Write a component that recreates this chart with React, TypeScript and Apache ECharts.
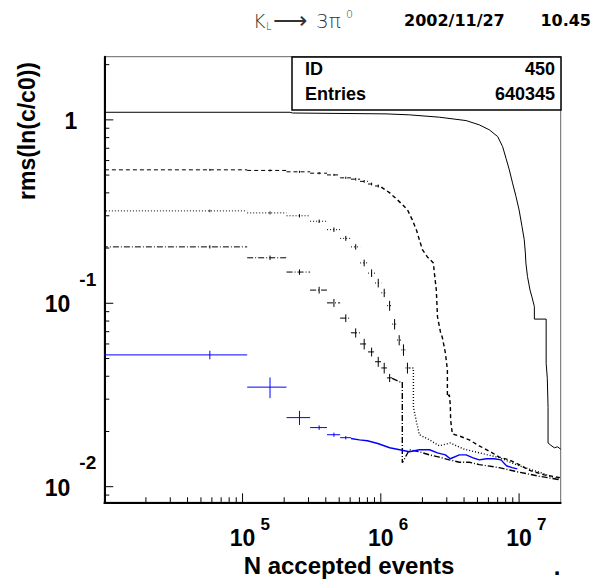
import React, { useEffect, useRef } from "react";
import * as echarts from "echarts";

const X_MIN = 1e4;
const X_MAX = 2e7;
const Y_MIN = 0.00822;
const Y_MAX = 2.21;
const BIN = 1e5;

const xMajor = [1e5, 1e6, 1e7];
const xMajorExp = ["5", "6", "7"];
const xMinor = [2e4, 3e4, 4e4, 5e4, 6e4, 7e4, 8e4, 9e4, 2e5, 3e5, 4e5, 5e5, 6e5, 7e5, 8e5, 9e5, 2e6, 3e6, 4e6, 5e6, 6e6, 7e6, 8e6, 9e6];
const yMajor = [0.01, 0.1, 1];
const yMajorBase = ["10", "10", "1"];
const yMajorExp = ["-2", "-1", ""];
const yMinor = [0.009, 0.02, 0.03, 0.04, 0.05, 0.06, 0.07, 0.08, 0.09, 0.2, 0.3, 0.4, 0.5, 0.6, 0.7, 0.8, 0.9, 2];

// solid series (line)
const A_trace = [
  [1e4, 1.1], [2.2e5, 1.1], [2.3e5, 1.09], [1.09e6, 1.078], [1.61e6, 1.065], [2.65e6, 1.034], [4.14e6, 0.991],
  [5.16e6, 0.939], [6.1e6, 0.882], [7.0e6, 0.811], [7.6e6, 0.715], [8.04e6, 0.618], [8.5e6, 0.534], [8.97e6, 0.452],
  [9.5e6, 0.382], [1.0e7, 0.323], [1.05e7, 0.262], [1.09e7, 0.222], [1.11e7, 0.188], [1.12e7, 0.166], [1.15e7, 0.14],
  [1.2e7, 0.118], [1.24e7, 0.108], [1.29e7, 0.096], [1.29e7, 0.082], [1.57e7, 0.082], [1.57e7, 0.047], [1.6e7, 0.039],
  [1.62e7, 0.027], [1.62e7, 0.0173], [1.7e7, 0.0168], [1.8e7, 0.0163], [1.9e7, 0.0165], [2e7, 0.016],
];

// dashed series: bins [centre, value, error] then dense trace
const B_bins = [
  [5.8e4, 0.534, 0.007], [1.58e5, 0.53, 0.007], [2.58e5, 0.521, 0.007], [3.58e5, 0.512, 0.007], [4.58e5, 0.501, 0.007],
  [5.58e5, 0.483, 0.007], [6.58e5, 0.475, 0.008], [7.58e5, 0.462, 0.008], [8.58e5, 0.447, 0.008], [9.58e5, 0.436, 0.008],
];
const B_trace = [
  [1.008e6, 0.43], [1.16e6, 0.4], [1.32e6, 0.366], [1.44e6, 0.344], [1.56e6, 0.323], [1.69e6, 0.285], [1.81e6, 0.251],
  [1.9e6, 0.222], [2.0e6, 0.196], [2.17e6, 0.179], [2.4e6, 0.166], [2.44e6, 0.146], [2.52e6, 0.118], [2.57e6, 0.0843],
  [2.7e6, 0.0698], [2.79e6, 0.0648], [2.93e6, 0.0537], [3.03e6, 0.0433], [3.03e6, 0.0309], [3.13e6, 0.0317],
  [3.18e6, 0.0279], [3.2e6, 0.0231], [3.29e6, 0.0194], [3.7e6, 0.0189], [4.36e6, 0.018], [5.15e6, 0.0167],
  [6.4e6, 0.0153], [7.19e6, 0.0145], [8.5e6, 0.014], [1e7, 0.0132], [1.18e7, 0.0123], [1.52e7, 0.0116], [1.98e7, 0.0112],
];

// dotted series
const C_bins = [
  [5.8e4, 0.319, 0.005], [1.58e5, 0.311, 0.006], [2.58e5, 0.3, 0.006], [3.58e5, 0.28, 0.006], [4.58e5, 0.252, 0.007],
  [5.58e5, 0.226, 0.007], [6.58e5, 0.203, 0.007], [7.58e5, 0.166, 0.007], [8.58e5, 0.146, 0.007], [9.58e5, 0.129, 0.007],
  [1.058e6, 0.114, 0.006], [1.158e6, 0.097, 0.006], [1.258e6, 0.077, 0.005], [1.358e6, 0.063, 0.004],
  [1.458e6, 0.0557, 0.004], [1.558e6, 0.0444, 0.003],
];
const C_trace = [
  [1.608e6, 0.0444], [1.72e6, 0.0444], [1.72e6, 0.0272], [1.81e6, 0.0226], [1.9e6, 0.0192], [2.25e6, 0.018],
  [2.65e6, 0.0167], [3.18e6, 0.0173], [4.02e6, 0.016], [5.15e6, 0.0153], [7.19e6, 0.0144], [1e7, 0.013],
  [1.4e7, 0.012], [1.98e7, 0.0109],
];

// dash-dot series
const D_bins = [
  [5.8e4, 0.203, 0.004], [1.58e5, 0.177, 0.005], [2.58e5, 0.148, 0.005], [3.58e5, 0.118, 0.005], [4.58e5, 0.1005, 0.005],
  [5.58e5, 0.083, 0.004], [6.58e5, 0.069, 0.004], [7.58e5, 0.06, 0.004], [8.58e5, 0.0543, 0.003], [9.58e5, 0.048, 0.003],
  [1.058e6, 0.0444, 0.003], [1.158e6, 0.0392, 0.002],
];
const D_trace = [
  [1.208e6, 0.039], [1.37e6, 0.0373], [1.43e6, 0.0373], [1.43e6, 0.0135], [1.61e6, 0.0159], [1.9e6, 0.0155],
  [2.25e6, 0.0149], [2.65e6, 0.0145], [3.13e6, 0.014], [3.7e6, 0.0136], [4.36e6, 0.0136], [5.15e6, 0.0132],
  [7.19e6, 0.0127], [1e7, 0.012], [1.4e7, 0.0114], [1.98e7, 0.0109],
];

// blue series
const E_bins = [
  [5.8e4, 0.0523, 0.0028], [1.58e5, 0.0349, 0.0045], [2.58e5, 0.0238, 0.0021], [3.58e5, 0.021, 0.0006],
  [4.58e5, 0.0192, 0.0005], [5.58e5, 0.0185, 0.0004],
];
const E_trace = [
  [6.08e5, 0.0183], [7.0e5, 0.018], [8.0e5, 0.0178], [9.5e5, 0.0172], [1.16e6, 0.0163], [1.37e6, 0.0159],
  [1.61e6, 0.0155], [1.9e6, 0.0159], [2.25e6, 0.0159], [2.57e6, 0.0153], [2.93e6, 0.0149], [3.18e6, 0.0142],
  [3.7e6, 0.0149], [4.14e6, 0.0149], [4.6e6, 0.0144], [5.15e6, 0.014], [5.8e6, 0.0142], [6.6e6, 0.0142],
  [7.4e6, 0.014], [8.1e6, 0.013], [8.9e6, 0.0127], [9.7e6, 0.0125],
];

const BLACK = "#000000";
const BLUE = "#0000ff";
const BOLD = "Liberation Sans, Arial, sans-serif";
const WIDE = "DejaVu Sans, sans-serif";

function crossSeries(data: number[][], color: string, dash: any) {
  return {
    type: "custom",
    data,
    clip: true,
    z: 4,
    silent: true,
    encode: { x: 0, y: 1 },
    renderItem: (_p: any, api: any) => {
      const xc = api.value(0);
      const y = api.value(1);
      const e = api.value(2);
      const l = api.coord([xc - BIN / 2, y]);
      const r = api.coord([xc + BIN / 2, y]);
      const t = api.coord([xc, y + e]);
      const b = api.coord([xc, y - e]);
      return {
        type: "group",
        children: [
          { type: "line", shape: { x1: l[0], y1: l[1], x2: r[0], y2: r[1] }, style: { stroke: color, lineWidth: 1, lineDash: dash } },
          { type: "line", shape: { x1: t[0], y1: t[1], x2: b[0], y2: b[1] }, style: { stroke: color, lineWidth: 1 } },
        ],
      };
    },
  };
}

function traceSeries(data: number[][], color: string, dash: any, width = 1.4) {
  return {
    type: "line",
    data,
    showSymbol: false,
    symbol: "none",
    clip: true,
    z: 3,
    silent: true,
    lineStyle: { color, width, type: dash },
  };
}

export default function App() {
  const ref = useRef<HTMLDivElement>(null);
  useEffect(() => {
    if (!ref.current) return;
    const chart = echarts.init(ref.current, null, { renderer: "svg" });
    const xTickData = [
      ...xMajor.map((v) => [v, Y_MIN, 1]),
      ...xMinor.map((v) => [v, Y_MIN, 0]),
    ];
    const yTickData = [
      ...yMajor.map((v) => [X_MIN, v, 1]),
      ...yMinor.map((v) => [X_MIN, v, 0]),
    ];
    const thin = { fontFamily: WIDE, fontWeight: 200, fill: "#333333", verticalAlign: "middle" };
    const option: any = {
      animation: false,
      backgroundColor: "#ffffff",
      grid: {
        left: 104.3, right: 39.3, top: 56.7, bottom: 78.7,
        show: true, borderColor: "#666666", borderWidth: 1,
        outerBoundsMode: "none", containLabel: false,
      },
      xAxis: {
        type: "log", logBase: 10, min: X_MIN, max: X_MAX,
        axisLine: { show: true, onZero: false, lineStyle: { color: BLACK, width: 2 } },
        axisTick: { show: false }, axisLabel: { show: false }, splitLine: { show: false },
      },
      yAxis: {
        type: "log", logBase: 10, min: Y_MIN, max: Y_MAX,
        axisLine: { show: true, onZero: false, lineStyle: { color: BLACK, width: 2 } },
        axisTick: { show: false }, axisLabel: { show: false }, splitLine: { show: false },
      },
      series: [
        traceSeries(A_trace, BLACK, "solid", 1),
        traceSeries(B_trace, BLACK, [4, 3]),
        crossSeries(B_bins, BLACK, [4, 3]),
        traceSeries(C_trace, BLACK, [1, 2]),
        crossSeries(C_bins, BLACK, [1, 2]),
        traceSeries(D_trace, BLACK, [6, 2, 1, 2]),
        crossSeries(D_bins, BLACK, [6, 2, 1, 2]),
        traceSeries(E_trace, BLUE, "solid"),
        crossSeries(E_bins, BLUE, null),
        {
          type: "custom", data: xTickData, clip: false, z: 6, silent: true, encode: { x: 0, y: 1 },
          renderItem: (_p: any, api: any) => {
            const p = api.coord([api.value(0), Y_MIN]);
            const len = api.value(2) ? 9 : 5;
            return { type: "line", shape: { x1: p[0], y1: p[1], x2: p[0], y2: p[1] - len }, style: { stroke: BLACK, lineWidth: 1 } };
          },
        },
        {
          type: "custom", data: yTickData, clip: false, z: 6, silent: true, encode: { x: 0, y: 1 },
          renderItem: (_p: any, api: any) => {
            const p = api.coord([X_MIN, api.value(1)]);
            const len = api.value(2) ? 9 : 5;
            return { type: "line", shape: { x1: p[0], y1: p[1], x2: p[0] + len, y2: p[1] }, style: { stroke: BLACK, lineWidth: 1 } };
          },
        },
        {
          type: "custom", data: xMajor.map((v) => [v, Y_MIN]), clip: false, z: 6, silent: true, encode: { x: 0, y: 1 },
          renderItem: (params: any, api: any) => {
            const p = api.coord([api.value(0), Y_MIN]);
            return {
              type: "group",
              children: [
                { type: "text", x: p[0], y: p[1] + 36, style: { text: "10", fontFamily: BOLD, fontWeight: "bold", fontSize: 23, fill: BLACK, align: "center", verticalAlign: "middle" } },
                { type: "text", x: p[0] + 18, y: p[1] + 22, style: { text: xMajorExp[params.dataIndex], fontFamily: BOLD, fontWeight: "bold", fontSize: 17, fill: BLACK, align: "left", verticalAlign: "middle" } },
              ],
            };
          },
        },
        {
          type: "custom", data: yMajor.map((v) => [X_MIN, v]), clip: false, z: 6, silent: true, encode: { x: 0, y: 1 },
          renderItem: (params: any, api: any) => {
            const p = api.coord([X_MIN, api.value(1)]);
            const i = params.dataIndex;
            const base = yMajorBase[i];
            const exp = yMajorExp[i];
            const children: any[] = [
              { type: "text", x: exp ? p[0] - 34 : p[0] - 27, y: p[1] + 1, style: { text: base, fontFamily: BOLD, fontWeight: "bold", fontSize: 23, fill: BLACK, align: "right", verticalAlign: "middle" } },
            ];
            if (exp) {
              children.push({ type: "text", x: p[0] - 25, y: p[1] - 24, style: { text: exp, fontFamily: BOLD, fontWeight: "bold", fontSize: 19, fill: BLACK, align: "left", verticalAlign: "middle" } });
            }
            return { type: "group", children };
          },
        },
      ],
      graphic: [
        { type: "rect", z: 100, shape: { x: 292, y: 57, width: 269, height: 53 }, style: { fill: "#ffffff", stroke: BLACK, lineWidth: 1.5 } },
        { type: "text", z: 101, x: 305, y: 69, style: { text: "ID", fontFamily: BOLD, fontWeight: "bold", fontSize: 18, fill: BLACK, align: "left", verticalAlign: "middle" } },
        { type: "text", z: 101, x: 555, y: 69, style: { text: "450", fontFamily: BOLD, fontWeight: "bold", fontSize: 18, fill: BLACK, align: "right", verticalAlign: "middle" } },
        { type: "text", z: 101, x: 305, y: 94, style: { text: "Entries", fontFamily: BOLD, fontWeight: "bold", fontSize: 18, fill: BLACK, align: "left", verticalAlign: "middle" } },
        { type: "text", z: 101, x: 555, y: 94, style: { text: "640345", fontFamily: BOLD, fontWeight: "bold", fontSize: 18, fill: BLACK, align: "right", verticalAlign: "middle" } },
        { type: "text", z: 101, x: 27, y: 131, rotation: Math.PI / 2, style: { text: "rms(ln(c/c0))", fontFamily: BOLD, fontWeight: "bold", fontSize: 23, fill: BLACK, align: "center", verticalAlign: "middle" } },
        { type: "text", z: 101, x: 349, y: 565, style: { text: "N accepted events", fontFamily: BOLD, fontWeight: "bold", fontSize: 24, fill: BLACK, align: "center", verticalAlign: "middle" } },
        { type: "text", z: 101, x: 557, y: 566, style: { text: ".", fontFamily: BOLD, fontWeight: "bold", fontSize: 24, fill: BLACK, align: "center", verticalAlign: "middle" } },
        { type: "text", z: 101, x: 404, y: 20, style: { text: "2002/11/27", fontFamily: WIDE, fontWeight: "bold", fontSize: 16, fill: BLACK, align: "left", verticalAlign: "middle" } },
        { type: "text", z: 101, x: 591, y: 20, style: { text: "10.45", fontFamily: WIDE, fontWeight: "bold", fontSize: 16, fill: BLACK, align: "right", verticalAlign: "middle" } },
        { type: "text", z: 101, x: 253, y: 21, style: { ...thin, text: "K", fontSize: 19, align: "left" } },
        { type: "text", z: 101, x: 266, y: 26, style: { ...thin, text: "L", fontSize: 10, align: "left" } },
        { type: "text", z: 101, x: 273, y: 21, style: { ...thin, text: "\u27F6", fontSize: 24, align: "left" } },
        { type: "text", z: 101, x: 316, y: 21, style: { ...thin, text: "3\u03C0", fontSize: 20, align: "left" } },
        { type: "text", z: 101, x: 346, y: 14, style: { ...thin, text: "0", fontSize: 11, align: "left" } },
      ],
    };
    chart.setOption(option);
    return () => chart.dispose();
  }, []);
  return <div ref={ref} style={{ position: "absolute", left: 0, top: 0, width: 600, height: 581 }} />;
}
